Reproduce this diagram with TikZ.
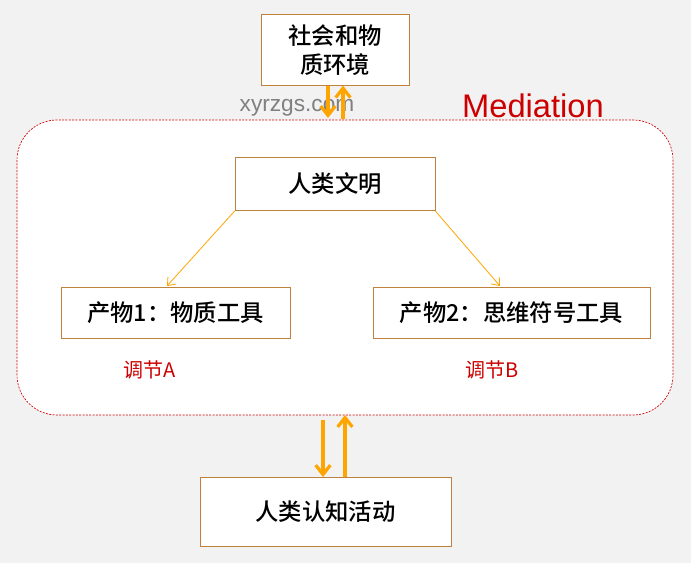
\documentclass[tikz,border=0pt]{standalone}
\usepackage{fontspec}
\setmainfont{Noto Sans CJK SC}[BoldFont={Noto Sans CJK SC Medium}]
\newfontfamily\latin{Liberation Sans}
\usetikzlibrary{arrows.meta}
\definecolor{boxline}{RGB}{190,130,60}
\definecolor{arrow}{RGB}{255,165,0}
\definecolor{medred}{RGB}{204,0,0}
\tikzset{
  box/.style={draw=boxline,fill=white,inner sep=0pt,font=\fontsize{17.5}{22}\selectfont\bfseries},
  thick arrow/.style={-{Straight Barb[length=7pt,width=11pt,line width=2.4pt]},draw=arrow,line width=2.6pt},
  thin arrow/.style={-{Straight Barb[length=5pt,width=8pt]},draw=arrow,line width=0.6pt},
}
\begin{document}
\begin{tikzpicture}[x=0.75pt,y=-0.75pt]
            \fill[gray!10] (0,0) rectangle (691,563);
            \draw[medred,dash pattern=on 1.5pt off 1pt,line width=0.5pt,rounded corners=30pt,fill=white] (17,120) rectangle (673,415);
            \node[medred,font=\latin\fontsize{24.5}{28}\selectfont](med) at (533,106) {Mediation};
            \node[gray,font=\latin\fontsize{17}{20}\selectfont](wm) at (297,108) {xyrzgs.com};

            \node[box,minimum width=111pt,minimum height=53pt,align=center](env) at (335,50) {社会和物\\质环境};
            \node[box,minimum width=150pt,minimum height=40pt](civ) at (335,184) {人类文明};
            \node[box,minimum width=172pt,minimum height=38pt](p1) at (175.5,312.5) {产物1：物质工具};
            \node[box,minimum width=208pt,minimum height=38pt](p2) at (511.5,312.5) {产物2：思维符号工具};
            \node[box,minimum width=188pt,minimum height=52pt](cog) at (325.5,512) {人类认知活动};
            \node[medred,font=\fontsize{15}{18}\selectfont](a) at (150,370) {调节A};
            \node[medred,font=\fontsize{15}{18}\selectfont](b) at (492,370) {调节B};

            \coordinate (t1) at (328,118);
            \coordinate (t2) at (343,119);
            \coordinate (m1) at (323,420);
            \coordinate (m2) at (345,415);
            \draw[thick arrow] (env.south -| t1) -- (t1);
            \draw[thick arrow] (t2) -- (env.south -| t2);
            \draw[thick arrow] (m1) -- (cog.north -| m1);
            \draw[thick arrow] (cog.north -| m2) -- (m2);
            \draw[thin arrow] (civ.south west) -- (167,286);
            \draw[thin arrow] (civ.south east) -- (500,286);
\end{tikzpicture}
\end{document}
